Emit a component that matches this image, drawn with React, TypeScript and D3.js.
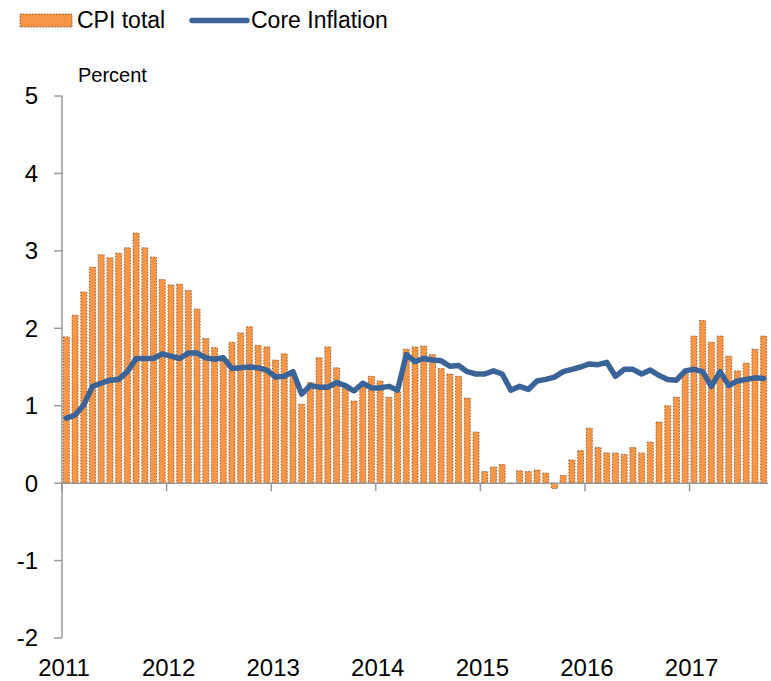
import * as d3 from "d3"

// monthly, Jan 2011 - Sep 2017
const months: Date[] = d3.timeMonth.range(new Date(2011, 0, 1), new Date(2017, 9, 1))
const years = ["2011", "2012", "2013", "2014", "2015", "2016", "2017"]
const yTicks = [-2, -1, 0, 1, 2, 3, 4, 5]

const cpiTotal = [
  1.89, 2.17, 2.47, 2.79, 2.95, 2.91, 2.97, 3.04, 3.23, 3.04, 2.92, 2.63,
  2.56, 2.57, 2.49, 2.25, 1.87, 1.75, 1.62, 1.82, 1.94, 2.02, 1.78, 1.76,
  1.59, 1.67, 1.42, 1.02, 1.3, 1.62, 1.76, 1.49, 1.24, 1.06, 1.27, 1.38,
  1.32, 1.11, 1.18, 1.73, 1.76, 1.77, 1.66, 1.48, 1.41, 1.38, 1.1, 0.66,
  0.15, 0.21, 0.24, -0.01, 0.16, 0.15, 0.17, 0.13, -0.07, 0.1, 0.3, 0.42,
  0.71, 0.46, 0.39, 0.39, 0.37, 0.46, 0.39, 0.53, 0.79, 1.0, 1.11, 1.45,
  1.9, 2.1, 1.82, 1.9, 1.64, 1.45, 1.55, 1.73, 1.9,
]

const coreInflation = [
  0.84, 0.88, 1.01, 1.25, 1.29, 1.33, 1.34, 1.44, 1.61, 1.61, 1.61, 1.67,
  1.64, 1.61, 1.68, 1.68, 1.62, 1.6, 1.62, 1.48, 1.49, 1.5, 1.49, 1.46,
  1.37, 1.38, 1.44, 1.15, 1.26, 1.24, 1.24, 1.3, 1.26, 1.19, 1.29, 1.23,
  1.23, 1.25, 1.2, 1.66, 1.57, 1.61, 1.59, 1.58, 1.51, 1.52, 1.44, 1.41,
  1.41, 1.45, 1.41, 1.2, 1.25, 1.21, 1.32, 1.34, 1.37, 1.44, 1.47, 1.5,
  1.54, 1.53, 1.56, 1.38, 1.47, 1.47, 1.41, 1.46, 1.39, 1.34, 1.33, 1.45,
  1.47, 1.44, 1.25, 1.44, 1.26, 1.32, 1.34, 1.36, 1.35,
]

const width = 771
const height = 681
const left = 62
const right = 768
const top = 96
const bottom = 638

const barColor = "#f79646"
const lineColor = "#3a6397"
const axisColor = "#999999"
const font = "Liberation Sans, Arial, sans-serif"

export default function App() {
  const x = d3
    .scaleBand<number>()
    .domain(d3.range(months.length))
    .range([left, right])
    .paddingInner(0.31)
    .paddingOuter(0.155)

  const step = x.step()
  const y = d3.scaleLinear().domain([-2, 5]).range([bottom, top])
  const y0 = y(0)

  // year tick = start of January band
  const yearX = (i: number) => left + step * i * 12

  const line = d3
    .line<number>()
    .x((_, i) => (x(i) ?? 0) + x.bandwidth() / 2)
    .y(d => y(d))

  return (
    <svg
      width={width}
      height={height}
      style={{ position: "absolute", left: 0, top: 0, background: "#fff" }}
      fontFamily={font}
    >
      {/* legend */}
      <rect x={20} y={14} width={52} height={13} fill={barColor} stroke="#6b3a10" strokeWidth={0.8} strokeDasharray="1.5,1.5" />
      <text x={77} y={28} fontSize={23} fill="#000">CPI total</text>
      <line x1={192} x2={247} y1={20.5} y2={20.5} stroke={lineColor} strokeWidth={5.5} strokeLinecap="round" />
      <text x={251} y={28} fontSize={23} fill="#000">Core Inflation</text>

      <text x={78} y={82} fontSize={20} fill="#000">Percent</text>

      {/* bars */}
      {cpiTotal.map((v, i) => (
        <rect
          key={i}
          x={x(i)}
          y={Math.min(y(v), y0)}
          width={x.bandwidth()}
          height={Math.abs(y(v) - y0)}
          fill={barColor}
          stroke="#6b3a10"
          strokeWidth={0.7}
          strokeDasharray="1.5,1.5"
        />
      ))}

      {/* axes */}
      <line x1={left} x2={left} y1={top} y2={bottom} stroke={axisColor} strokeWidth={1.5} />
      {yTicks.map(t => (
        <g key={t}>
          <line x1={left - 8} x2={left} y1={y(t)} y2={y(t)} stroke={axisColor} strokeWidth={1.5} />
          <text x={38} y={y(t)} dy="0.35em" textAnchor="end" fontSize={24} fill="#000">
            {t}
          </text>
        </g>
      ))}
      <line x1={left} x2={right} y1={y0} y2={y0} stroke={axisColor} strokeWidth={1.5} />
      {years.map((yr, i) => (
        <g key={yr}>
          <line x1={yearX(i)} x2={yearX(i)} y1={y0} y2={y0 + 8} stroke={axisColor} strokeWidth={1.5} />
          <text x={yearX(i) + 2} y={676} textAnchor="middle" fontSize={24} fill="#000">
            {yr}
          </text>
        </g>
      ))}

      {/* core inflation */}
      <path
        d={line(coreInflation) ?? ""}
        fill="none"
        stroke={lineColor}
        strokeWidth={5.5}
        strokeLinejoin="round"
        strokeLinecap="round"
      />
    </svg>
  )
}
